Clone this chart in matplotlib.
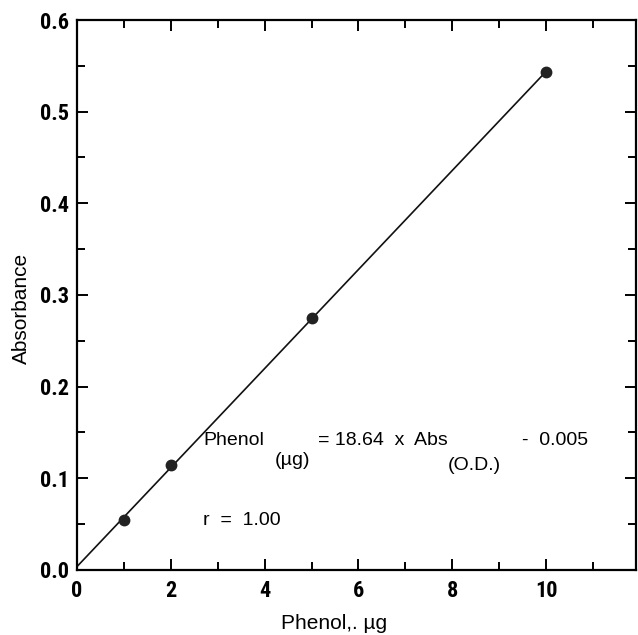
#Calibration curve for phenol: absorbance vs amount of phenol

import matplotlib.pyplot as plt
from matplotlib import font_manager
from matplotlib.ticker import MultipleLocator
import numpy as np

#Data
phenol_ug = [1, 2, 5, 10]
absorbance = [0.055, 0.114, 0.275, 0.543]
x_major = [0, 2, 4, 6, 8, 10]
y_major = [0.0, 0.1, 0.2, 0.3, 0.4, 0.5, 0.6]

#Fitted straight line through the standards
slope, intercept = np.polyfit(phenol_ug, absorbance, 1)
fit_x = np.array([0, 10])
fit_y = slope * fit_x + intercept

#Pick a narrow bold face for the tick numbers if one is installed
installed = set(f.name for f in font_manager.fontManager.ttflist)
narrow = None
for name in ['Liberation Sans Narrow', 'DejaVu Sans Condensed', 'Roboto Condensed',
             'Open Sans Condensed', 'Noto Sans Condensed']:
    if name in installed:
        narrow = name
        break
if narrow is None:
    tick_font = dict(family='Roboto', weight='bold', size=14)
else:
    tick_font = dict(family=narrow, weight='bold', size=16)

fig = plt.figure(figsize=(6.38, 6.35), dpi=100)
ax = fig.add_axes([0.1207, 0.1024, 0.8763, 0.8661])

ax.plot(fit_x, fit_y, color='#111111', linewidth=1.2)
ax.plot(phenol_ug, absorbance, 'o', color='#222222', markersize=7.5)

ax.set_xlim(0, 11.92)
ax.set_ylim(0, 0.6)

#Tick marks inside on all four sides
ax.set_xticks(x_major)
ax.set_yticks(y_major)
ax.xaxis.set_minor_locator(MultipleLocator(1))
ax.yaxis.set_minor_locator(MultipleLocator(0.05))
ax.tick_params(which='both', direction='in', top=True, right=True, width=1.4)
ax.tick_params(which='major', length=8)
ax.tick_params(which='minor', length=6)
ax.tick_params(axis='x', pad=7)
ax.tick_params(axis='y', pad=6)

ax.set_xticklabels([str(v) for v in x_major], fontdict=tick_font)
ax.set_yticklabels(['%.1f' % v for v in y_major], fontdict=tick_font)

for side in ax.spines.values():
    side.set_linewidth(1.6)

label_font = dict(family='Liberation Sans', size=14)
axis_font = dict(family='Liberation Sans', size=15)
ax.set_xlabel('Phenol,. µg', fontdict=axis_font)
ax.set_ylabel('Absorbance', fontdict=axis_font)
ax.xaxis.set_label_coords(0.46, -0.08)
ax.yaxis.set_label_coords(-0.083, 0.475)

#Regression equation
ax.text(2.69, 0.1413, 'Phenol', va='center', **label_font)
ax.text(4.22, 0.119, '(µg)', va='center', **label_font)
ax.text(5.14, 0.1413, '= 18.64  x  Abs', va='center', **label_font)
ax.text(7.91, 0.114, '(O.D.)', va='center', **label_font)
ax.text(9.49, 0.1413, '-  0.005', va='center', **label_font)
ax.text(2.69, 0.054, 'r  =  1.00', va='center', **label_font)

plt.savefig('out.png', dpi=100)
